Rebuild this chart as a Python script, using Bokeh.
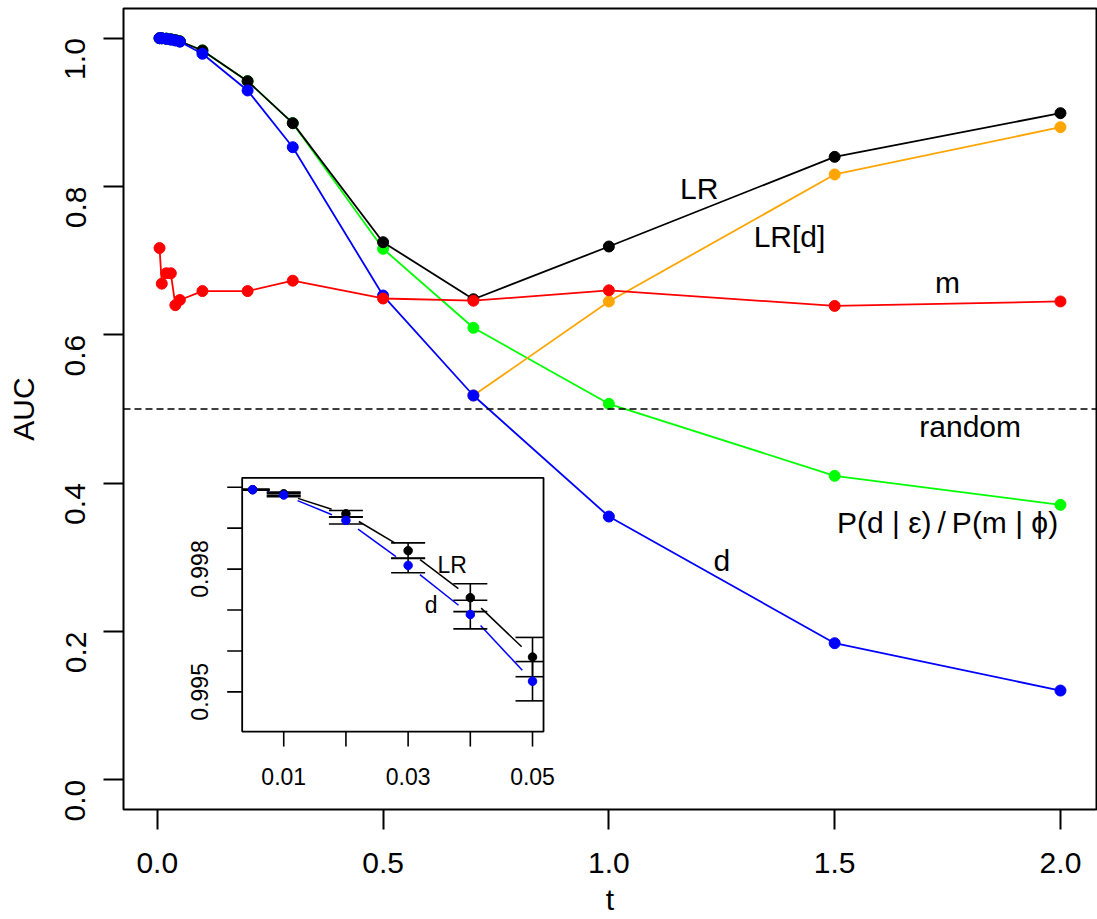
import math
from bokeh.plotting import figure
from bokeh.models import Range1d, Span, FixedTicker, NumeralTickFormatter
from bokeh.core.properties import value
from bokeh.embed import file_html
from bokeh.resources import INLINE

# ---------------- data ----------------
t_all = [0.005, 0.01, 0.02, 0.03, 0.04, 0.05, 0.1, 0.2, 0.3, 0.5, 0.7, 1.0, 1.5, 2.0]
auc_lr = [0.99994, 0.99984, 0.99935, 0.99845, 0.99730, 0.99585,
          0.9834, 0.9420, 0.8854, 0.7249, 0.6480, 0.7191, 0.8400, 0.8989]
auc_ratio = [0.99994, 0.99984, 0.99935, 0.99845, 0.99730, 0.99585,
             0.9834, 0.9420, 0.8854, 0.7160, 0.6095, 0.5070, 0.4099, 0.3708]
auc_d = [0.99994, 0.99981, 0.99919, 0.99809, 0.99689, 0.99526,
         0.9790, 0.9295, 0.8530, 0.6530, 0.5182, 0.3550, 0.1842, 0.1204]
auc_m = [0.717, 0.669, 0.683, 0.683, 0.640, 0.647,
         0.659, 0.659, 0.673, 0.649, 0.646, 0.660, 0.639, 0.645]
t_lrd = [0.7, 1.0, 1.5, 2.0]
auc_lrd = [0.5182, 0.6450, 0.8162, 0.8800]

x_ticks = [0.0, 0.5, 1.0, 1.5, 2.0]
y_ticks = [0.0, 0.2, 0.4, 0.6, 0.8, 1.0]
random_level = 0.5

main_labels = ["LR", "LR[d]", "m", "random",
               "P(d | \u03b5)\u2009/\u2009P(m | \u03d5)", "d"]
main_label_x = [1.2, 1.4, 1.75, 1.8, 1.75, 1.25]
main_label_y = [0.7975, 0.7332, 0.6708, 0.4764, 0.3470, 0.2953]

# inset
t_inset = [0.005, 0.01, 0.02, 0.03, 0.04, 0.05]
inset_lr = [0.99994, 0.99984, 0.99935, 0.99845, 0.99730, 0.99585]
inset_lr_err = [0.00001, 0.00004, 0.00008, 0.00019, 0.00034, 0.00048]
inset_d = [0.99994, 0.99981, 0.99919, 0.99809, 0.99689, 0.99526]
inset_d_err = [0.00001, 0.00004, 0.00009, 0.00018, 0.00035, 0.00048]
inset_x_ticks = [0.01, 0.02, 0.03, 0.04, 0.05]
inset_x_tick_labels = ["0.01", "", "0.03", "", "0.05"]
inset_y_ticks = [0.995, 0.996, 0.997, 0.998, 0.999, 1.000]
inset_y_tick_labels = ["0.995", "", "", "0.998", "", ""]
inset_labels = ["LR", "d"]
inset_label_x = [0.0371, 0.0337]
inset_label_y = [0.998111, 0.997117]

# ---------------- layout ----------------
FONT = "Liberation Sans"
W, H = 1097, 919
BL, BR, BT, BB = 123, 1, 8, 110
FW, FH = W - BL - BR, H - BT - BB

X0, X1 = -0.0748, 2.0798
Y0, Y1 = -0.04, 1.04

p = figure(width=W, height=H, x_range=Range1d(X0, X1), y_range=Range1d(Y0, Y1),
           output_backend="svg", toolbar_location=None,
           min_border_left=BL, min_border_right=BR, min_border_top=BT, min_border_bottom=BB)
p.grid.visible = False
p.outline_line_color = "black"
p.outline_line_width = 2
p.background_fill_color = "white"
p.border_fill_color = "white"

for ax in (p.xaxis[0], p.yaxis[0]):
    ax.axis_line_color = None
    ax.major_tick_out = 20
    ax.major_tick_in = 0
    ax.major_tick_line_width = 2
    ax.major_tick_line_color = "black"
    ax.minor_tick_line_color = None
    ax.major_label_text_font = FONT
    ax.major_label_text_font_size = "30px"
    ax.major_label_text_color = "black"
    ax.axis_label_text_font = FONT
    ax.axis_label_text_font_size = "30px"
    ax.axis_label_text_font_style = "normal"
    ax.axis_label_text_color = "black"

p.xaxis.ticker = FixedTicker(ticks=x_ticks)
p.yaxis.ticker = FixedTicker(ticks=y_ticks)
p.xaxis.formatter = NumeralTickFormatter(format="0.0")
p.yaxis.formatter = NumeralTickFormatter(format="0.0")
p.yaxis.major_label_orientation = math.pi / 2
p.xaxis.major_label_standoff = 23
p.yaxis.major_label_standoff = 28
p.xaxis.axis_label = "t"
p.yaxis.axis_label = "AUC"
p.xaxis.axis_label_standoff = 7
p.yaxis.axis_label_standoff = 13

# reference line
p.add_layout(Span(location=random_level, dimension="width", line_color="black",
                  line_dash="7 4", line_width=1.6))

# main series (drawn in the original order)
series = [
    (t_all, auc_ratio, "#00FF00"),
    (t_all, auc_lr, "black"),
    (t_lrd, auc_lrd, "#FFA500"),
    (t_all, auc_d, "#0000FF"),
    (t_all, auc_m, "#FF0000"),
]
for xs, ys, c in series:
    p.line(xs, ys, line_color=c, line_width=1.8)
    p.scatter(xs, ys, size=11, fill_color=c, line_color=c)

p.text(x=main_label_x, y=main_label_y, text=main_labels, text_font=value(FONT),
       text_font_size="30px", text_align="center", text_baseline="alphabetic",
       text_color="black")

# ---------------- inset (own scales inside the main frame) ----------------
IB_X0, IB_X1 = 0.188, 0.8553   # inset box in main data units
IB_Y0, IB_Y1 = 0.0651, 0.4072
IX0, IX1 = 0.00332, 0.05177    # inset data limits
IY0, IY1 = 0.99403, 1.00023

bx = (IX1 - IX0) / (IB_X1 - IB_X0)
by = (IY1 - IY0) / (IB_Y1 - IB_Y0)
ix_start, ix_end = IX0 + (X0 - IB_X0) * bx, IX0 + (X1 - IB_X0) * bx
iy_start, iy_end = IY0 + (Y0 - IB_Y0) * by, IY0 + (Y1 - IB_Y0) * by
p.extra_x_ranges = {"ix": Range1d(ix_start, ix_end)}
p.extra_y_ranges = {"iy": Range1d(iy_start, iy_end)}
sx = FW / (ix_end - ix_start)   # px per inset x unit
sy = FH / (iy_end - iy_start)   # px per inset y unit
R = dict(x_range_name="ix", y_range_name="iy")

p.quad(left=[IX0], right=[IX1], bottom=[IY0], top=[IY1], fill_color=None,
       line_color="black", line_width=1.8, **R)

# inset ticks
TL = 15
p.segment(x0=inset_x_ticks, y0=[IY0] * len(inset_x_ticks), x1=inset_x_ticks,
          y1=[IY0 - TL / sy] * len(inset_x_ticks), line_color="black", line_width=1.6, **R)
p.segment(x0=[IX0] * len(inset_y_ticks), y0=inset_y_ticks,
          x1=[IX0 - TL / sx] * len(inset_y_ticks), y1=inset_y_ticks,
          line_color="black", line_width=1.6, **R)
p.text(x=inset_x_ticks, y=[IY0 - 44.7 / sy] * len(inset_x_ticks), text=inset_x_tick_labels,
       text_font=value(FONT), text_font_size="23px", text_align="center",
       text_baseline="alphabetic", text_color="black", **R)
p.text(x=[IX0 - 43.0 / sx] * len(inset_y_ticks), y=inset_y_ticks, text=inset_y_tick_labels,
       angle=math.pi / 2, text_font=value(FONT), text_font_size="23px", text_align="center",
       text_baseline="alphabetic", text_color="black", **R)


def gapped(xs, ys, g=15.0):
    a, b, c, d = [], [], [], []
    for i in range(len(xs) - 1):
        dx, dy = xs[i + 1] - xs[i], ys[i + 1] - ys[i]
        L = math.hypot(dx * sx, dy * sy)
        if L > 2 * g:
            f = g / L
            a.append(xs[i] + f * dx)
            b.append(ys[i] + f * dy)
            c.append(xs[i + 1] - f * dx)
            d.append(ys[i + 1] - f * dy)
    return a, b, c, d


def errbars(xs, ys, es, color, cap=17.0):
    hw = cap / sx
    p.segment(x0=xs, y0=[y - e for y, e in zip(ys, es)], x1=xs,
              y1=[y + e for y, e in zip(ys, es)], line_color=color, line_width=1.6, **R)
    cx0 = [max(x - hw, IX0) for x in xs]
    cx1 = [min(x + hw, IX1) for x in xs]
    for sgn in (-1, 1):
        yy = [y + sgn * e for y, e in zip(ys, es)]
        p.segment(x0=cx0, y0=yy, x1=cx1, y1=yy, line_color=color, line_width=1.6, **R)


for ys, es, c in [(inset_lr, inset_lr_err, "black"), (inset_d, inset_d_err, "#0000FF")]:
    a, b, cc, d = gapped(t_inset, ys)
    p.segment(x0=a, y0=b, x1=cc, y1=d, line_color=c, line_width=1.5, **R)
    errbars(t_inset, ys, es, "black")
    p.scatter(t_inset, ys, size=8.5, fill_color=c, line_color=c, **R)

p.text(x=inset_label_x, y=inset_label_y, text=inset_labels, text_font=value(FONT),
       text_font_size="23px", text_align="center", text_baseline="alphabetic",
       text_color="black", **R)

open("out.html", "w").write(file_html(p, INLINE))
